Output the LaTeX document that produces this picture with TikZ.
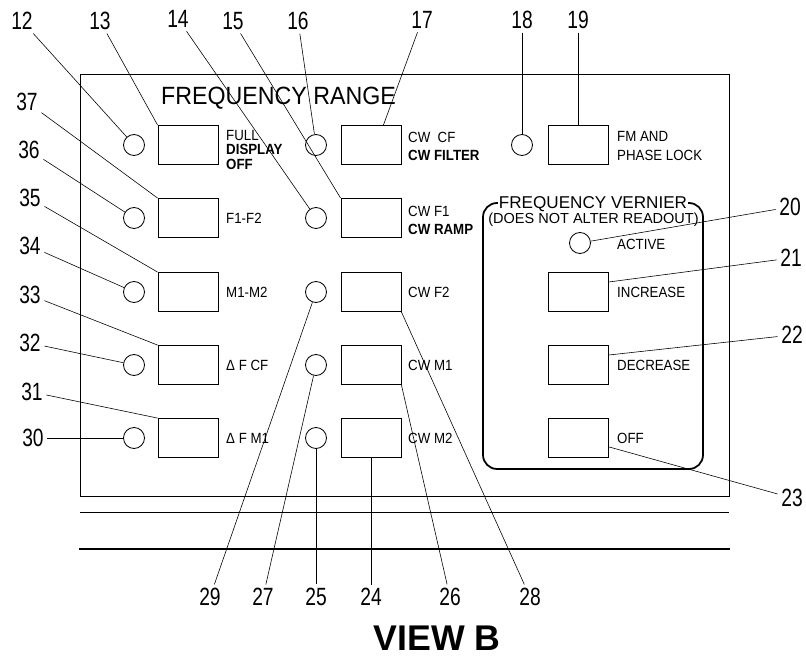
\documentclass[tikz,border=0pt]{standalone}
\usepackage{fontspec}
\setmainfont{Liberation Sans}
\newfontfamily\numfont[FakeStretch=0.77]{Liberation Sans}
\newfontfamily\tagfont[FakeStretch=0.9]{Liberation Sans}
\newfontfamily\headfont[FakeStretch=0.93]{Liberation Sans}
\usetikzlibrary{calc}

\begin{document}
\begin{tikzpicture}[x=0.03cm,y=-0.03cm,
  lamp/.style={circle,draw,line width=0.7pt,minimum size=0.63cm,inner sep=0pt},
  key/.style={rectangle,draw,line width=0.7pt,minimum width=1.8cm,minimum height=1.17cm,inner sep=0pt},
  tag/.style={anchor=west,inner sep=0pt,align=left,font=\tagfont\fontsize{12.6}{15.4}\selectfont},
  num/.style={inner sep=3pt,font=\numfont\fontsize{21.3}{24}\selectfont},
  lead/.style={line width=0.5pt}]
  \useasboundingbox (0,0) rectangle (806,657);

  % panel and edges
  \draw[line width=0.7pt] (80,74) rectangle (729,496);
  \draw[line width=0.7pt] (80,512) -- (729,512);
  \draw[line width=1.4pt] (79,549) -- (730,549);

  \node[anchor=base west,inner sep=0pt,font=\headfont\fontsize{21.3}{24}\selectfont] (range) at (161,105) {FREQUENCY RANGE};

  \foreach \i/\y in {1/145,2/218,3/292,4/365,5/438}{
    \node[lamp] (l\i) at (134,\y) {};
    \node[key] (k\i) at (188,\y) {};
    \node[lamp] (c\i) at (316,\y) {};
    \node[key] (m\i) at (371,\y) {};
  }
  \node[lamp] (fl) at (522,145) {};
  \node[key] (fk) at (578,145) {};

  % vernier group
  \draw[line width=1.5pt,rounded corners=12pt] (483,203) rectangle (703,469);
  \node[fill=white,inner sep=1pt,anchor=base,font=\fontsize{14.6}{16}\selectfont] (vtitle) at (593,209) {FREQUENCY VERNIER};
  \node[inner sep=0pt,anchor=base,font=\fontsize{12.4}{14}\selectfont] (vsub) at (593.5,224) {(DOES NOT ALTER READOUT)};
  \node[lamp] (v0) at (580,243) {};
  \node[key] (v1) at (578,292) {};
  \node[key] (v2) at (578,365) {};
  \node[key] (v3) at (578,438) {};

  % labels
  \node[tag,font=\tagfont\fontsize{12.6}{13}\selectfont] (t1) at (226,150) {FULL\\[-1pt]\textbf{DISPLAY}\\\textbf{OFF}};
  \node[tag] (t2) at (226,218) {F1-F2};
  \node[tag] (t3) at (226,292) {M1-M2};
  \node[tag] (t4) at (226,365) {Δ F CF};
  \node[tag] (t5) at (226,438) {Δ F M1};
  \node[tag] (u1) at (408,146.5) {CW\ \ CF\\\textbf{CW FILTER}};
  \node[tag] (u2) at (408,220) {CW F1\\\textbf{CW RAMP}};
  \node[tag] (u3) at (408,292) {CW F2};
  \node[tag] (u4) at (408,365) {CW M1};
  \node[tag] (u5) at (408,438) {CW M2};
  \node[tag] (fm) at (617,146) {FM AND\\PHASE LOCK};
  \node[tag] (w0) at (617,244.5) {ACTIVE};
  \node[tag] (w1) at (617,292) {INCREASE};
  \node[tag] (w2) at (617,365) {DECREASE};
  \node[tag] (w3) at (617,438) {OFF};

  % callout numbers
  \node[num] (n12) at (22,21) {12};
  \node[num] (n13) at (100,21) {13};
  \node[num] (n14) at (178,19) {14};
  \node[num] (n15) at (233,21) {15};
  \node[num] (n16) at (298,21) {16};
  \node[num] (n17) at (422,20) {17};
  \node[num] (n18) at (522,20) {18};
  \node[num] (n19) at (578,20) {19};
  \node[num] (n20) at (790,207) {20};
  \node[num] (n21) at (791,258) {21};
  \node[num] (n22) at (792,335) {22};
  \node[num] (n23) at (792,498) {23};
  \node[num] (n24) at (371,597) {24};
  \node[num] (n25) at (316,597) {25};
  \node[num] (n26) at (450,597) {26};
  \node[num] (n27) at (263,597) {27};
  \node[num] (n28) at (530,597) {28};
  \node[num] (n29) at (210,597) {29};
  \node[num] (n30) at (33,438) {30};
  \node[num] (n31) at (32,392) {31};
  \node[num] (n32) at (30,343) {32};
  \node[num] (n33) at (30,295) {33};
  \node[num] (n34) at (30,246) {34};
  \node[num] (n35) at (30,198) {35};
  \node[num] (n36) at (29,150) {36};
  \node[num] (n37) at (27,102) {37};

  \draw[lead] (n12) -- (l1);
  \draw[lead] (n13) -- (k1.north west);
  \draw[lead] (n14) -- (c2);
  \draw[lead] (n15) -- (m2.north west);
  \draw[lead] (n16) -- (c1);
  \draw[lead] (n17) -- ($(m1.north east)+(-18,0)$);
  \draw[lead] (n18) -- (fl);
  \draw[lead] (n19) -- (fk);
  \draw[lead] (n20) -- (v0);
  \draw[lead] (n21) -- ($(v1.north east)!0.25!(v1.south east)$);
  \draw[lead] (n22) -- ($(v2.north east)!0.25!(v2.south east)$);
  \draw[lead] (n23) -- ($(v3.north east)!0.72!(v3.south east)$);
  \draw[lead] (n24) -- (m5);
  \draw[lead] (n25) -- (c5);
  \draw[lead] (n26) -- (m4.south east);
  \draw[lead] (n27) -- (c4);
  \draw[lead] (n28) -- (m3.south east);
  \draw[lead] (n29) -- (c3);
  \draw[lead] (n30) -- (l5);
  \draw[lead] (n31) -- (k5.north west);
  \draw[lead] (n32) -- (l4);
  \draw[lead] (n33) -- (k4.north west);
  \draw[lead] (n34) -- (l3);
  \draw[lead] (n35) -- (k3.north west);
  \draw[lead] (n36) -- (l2);
  \draw[lead] (n37) -- (k2.north west);

  \node[font=\bfseries\fontsize{30.5}{32}\selectfont,inner sep=0pt] (view) at (437,638.5) {VIEW B};
\end{tikzpicture}
\end{document}
